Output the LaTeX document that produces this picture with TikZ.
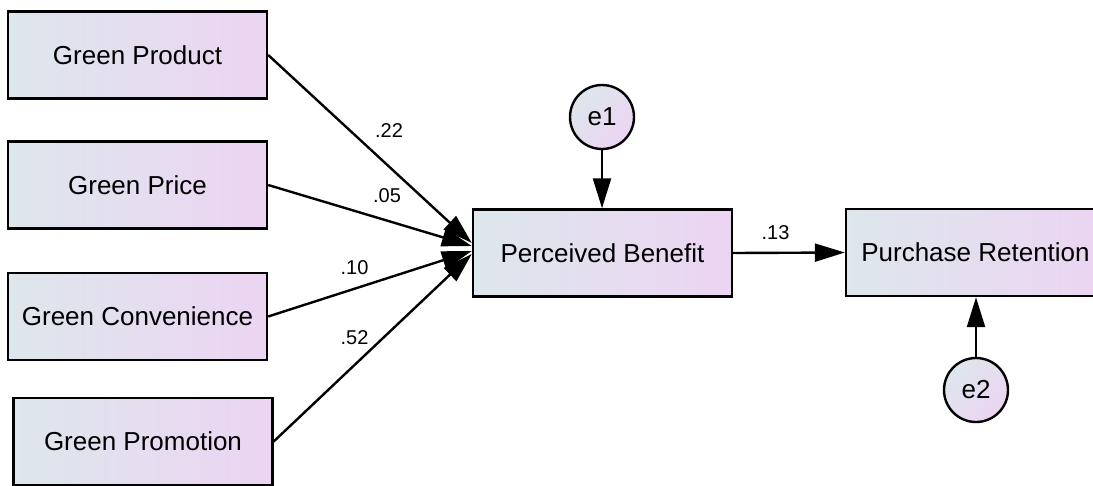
\documentclass[tikz,border=0pt]{standalone}
\usepackage{fontspec}
\setmainfont{Liberation Sans}
\usetikzlibrary{arrows.meta,calc}
\definecolor{fillL}{RGB}{221,231,236}
\definecolor{fillR}{RGB}{236,212,243}
\begin{document}
\begin{tikzpicture}[x=1pt,y=-1pt,
  var/.style={draw, line width=2.4pt, rectangle, minimum width=259pt,
    minimum height=87pt, inner sep=0pt, left color=fillL, right color=fillR,
    font=\fontsize{26}{30}\selectfont},
  err/.style={draw, circle, line width=2.4pt, minimum size=64pt, inner sep=0pt,
    left color=fillL, right color=fillR, shading angle=45,
    font=\fontsize{26}{30}\selectfont},
  regpath/.style={line width=2.4pt, -{Triangle[length=30pt,width=18pt]}},
  coef/.style={font=\fontsize{20}{24}\selectfont, inner sep=0pt}]
  \useasboundingbox (0,0) rectangle (1093,485);
  \clip (0,0) rectangle (1093,485);

  % exogenous observed variables
  \node[var] (gprod) at (137.5,55)  {Green Product};
  \node[var] (gpric) at (137.5,185) {Green Price};
  \node[var] (gconv) at (137.5,316.5) {Green Convenience};
  \node[var] (gprom) at (143,441.5) {Green Promotion};

  % endogenous variables
  \node[var] (pb) at (602.5,253) {Perceived Benefit};
  \node[var] (pr) at (975.5,252.5) {Purchase Retention};

  % error terms
  \node[err] (e1) at (602,117) {e1};
  \node[err] (e2) at (976,390) {e2};

  % arrow end points on the mediator
  \coordinate (t1) at ($(pb.west)+(0,-10)$);
  \coordinate (t2) at ($(pb.west)+(0,-7)$);
  \coordinate (t3) at ($(pb.west)+(0,-2)$);
  \coordinate (t4) at ($(pb.west)+(0,1)$);

  % regression paths
  \draw[regpath] (gprod.east) -- (t1);
  \draw[regpath] (gpric.east) -- (t2);
  \draw[regpath] (gconv.east) -- (t3);
  \draw[regpath] (gprom.east) -- (t4);
  \draw[regpath] (pb.east) -- (pr.west);
  \draw[regpath] (e1) -- (pb.north -| e1);
  \draw[regpath] (e2) -- (pr.south -| e2);

  % standardized coefficients
  \node[coef] (c1) at (389,131)   {.22};
  \node[coef] (c2) at (387,196)   {.05};
  \node[coef] (c3) at (354.5,267.5) {.10};
  \node[coef] (c4) at (354.5,337.5) {.52};
  \node[coef] (c5) at (775.5,232.5) {.13};
\end{tikzpicture}
\end{document}
